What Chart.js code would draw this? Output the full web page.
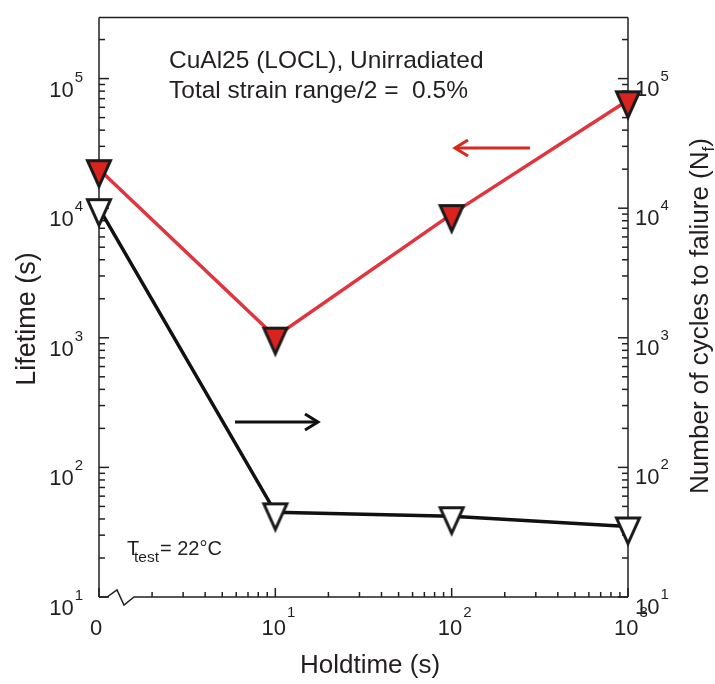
<!DOCTYPE html>
<html>
<head>
<meta charset="utf-8">
<script src="https://cdn.jsdelivr.net/npm/chart.js@4.4.1/dist/chart.umd.min.js"></script>
<style>
  html, body { margin: 0; padding: 0; background: #fff; }
  #chart { display: block; }
</style>
</head>
<body>
<canvas id="chart" width="715" height="684"></canvas>
<script>
// holdtime (s), the 0 point sits at the axis break
const holdtime = [0, 10, 100, 1000];
// lifetime (s), left axis, red
const lifetime = [2.0e4, 1.02e3, 9.0e3, 6.8e4];
// cycles to failure, right axis, black
const cyclesToFailure = [1.0e4, 45, 42, 35];

const xTickValues = [1, 10, 100, 1000];
const xTickLabels = [['0', ''], ['10', '1'], ['10', '2'], ['10', '3']];
const yTickValues = [10, 100, 1000, 10000, 100000];
const yTickLabels = [['10', '1'], ['10', '2'], ['10', '3'], ['10', '4'], ['10', '5']];

const ZERO_AT = 1;   // where holdtime 0 is put on the log axis
const FONT = '"Liberation Sans", Arial, Helvetica, sans-serif';
const AXIS = '#231f20';
const RED_LINE = '#e0353f';
const RED_FILL = '#d8231e';

function toPoints(ys) {
  return holdtime.map((h, i) => ({ x: h === 0 ? ZERO_AT : h, y: ys[i] }));
}

// down pointing triangle, a bit taller than wide, centroid at the middle of the canvas
function triangleMarker(fill) {
  const c = document.createElement('canvas');
  c.width = 36;
  c.height = 48;
  const g = c.getContext('2d');
  g.beginPath();
  g.moveTo(18 - 11.5, 15.5);
  g.lineTo(18 + 11.5, 15.5);
  g.lineTo(18, 41);
  g.closePath();
  g.fillStyle = fill;
  g.fill();
  g.lineWidth = 3;
  g.lineJoin = 'miter';
  g.strokeStyle = '#1a1a1a';
  g.stroke();
  return c;
}

function drawPower(ctx, base, exp, x, y, align, baseSize, expSize, rise) {
  ctx.font = baseSize + 'px ' + FONT;
  const wb = ctx.measureText(base).width;
  ctx.font = expSize + 'px ' + FONT;
  const we = exp ? ctx.measureText(exp).width + 1 : 0;
  const w = wb + we;
  const x0 = align === 'right' ? x - w : align === 'center' ? x - w / 2 : x;
  ctx.textAlign = 'left';
  ctx.textBaseline = 'alphabetic';
  ctx.font = baseSize + 'px ' + FONT;
  ctx.fillText(base, x0, y);
  if (exp) {
    ctx.font = expSize + 'px ' + FONT;
    ctx.fillText(exp, x0 + wb + 1, y - rise);
  }
}

function minorValues(min, max) {
  const out = [];
  for (let e = Math.floor(Math.log10(min)); e <= Math.ceil(Math.log10(max)); e++) {
    for (let m = 2; m <= 9; m++) {
      const v = m * Math.pow(10, e);
      if (v > min && v < max) out.push(v);
    }
  }
  return out;
}

function seg(ctx, x1, y1, x2, y2) {
  ctx.beginPath();
  ctx.moveTo(x1, y1);
  ctx.lineTo(x2, y2);
  ctx.stroke();
}

const frame = {
  id: 'frame',
  beforeDatasetsDraw(chart) {
    const { ctx, chartArea: a, scales } = chart;
    const x = scales.x, y = scales.y, y2 = scales.y2;
    ctx.save();
    ctx.strokeStyle = AXIS;
    ctx.lineWidth = 1.5;
    ctx.lineJoin = 'miter';

    // box
    seg(ctx, a.left, a.top, a.right, a.top);
    seg(ctx, a.left, a.top, a.left, a.bottom);
    seg(ctx, a.right, a.top, a.right, a.bottom);
    // bottom axis with break
    ctx.beginPath();
    ctx.moveTo(a.left, a.bottom);
    ctx.lineTo(a.left + 8, a.bottom);
    ctx.lineTo(a.left + 18, a.bottom - 7);
    ctx.lineTo(a.left + 25, a.bottom + 8);
    ctx.lineTo(a.left + 35, a.bottom);
    ctx.lineTo(a.right, a.bottom);
    ctx.stroke();

    // ticks, pointing inwards
    yTickValues.forEach(v => {
      const py = y.getPixelForValue(v);
      seg(ctx, a.left, py, a.left + 10, py);
      const py2 = y2.getPixelForValue(v);
      seg(ctx, a.right, py2, a.right - 10, py2);
    });
    minorValues(y.min, y.max).forEach(v => {
      const py = y.getPixelForValue(v);
      seg(ctx, a.left, py, a.left + 6, py);
      const py2 = y2.getPixelForValue(v);
      seg(ctx, a.right, py2, a.right - 6, py2);
    });
    xTickValues.forEach(v => {
      const px = x.getPixelForValue(v);
      seg(ctx, px, a.bottom, px, a.bottom - 9);
    });
    minorValues(x.min, x.max).forEach(v => {
      const px = x.getPixelForValue(v);
      seg(ctx, px, a.bottom, px, a.bottom - 5);
    });
    ctx.restore();
  },
  afterDraw(chart) {
    const { ctx, scales } = chart;
    ctx.save();
    ctx.fillStyle = '#231f20';

    // tick labels
    yTickValues.forEach((v, i) => {
      const py = scales.y.getPixelForValue(v);
      drawPower(ctx, yTickLabels[i][0], yTickLabels[i][1], 83, py + 18, 'right', 22, 15, 15);
      const py2 = scales.y2.getPixelForValue(v);
      drawPower(ctx, yTickLabels[i][0], yTickLabels[i][1], 635, py2 + 17, 'left', 22, 15, 15);
    });
    xTickValues.forEach((v, i) => {
      const px = scales.x.getPixelForValue(v);
      const exp = xTickLabels[i][1];
      drawPower(ctx, xTickLabels[i][0], exp, px + (exp ? 3 : -3), 635, 'center', 22, 15, 18);
    });

    // axis titles
    ctx.textBaseline = 'alphabetic';
    ctx.textAlign = 'center';
    ctx.font = '26px ' + FONT;
    ctx.fillText('Holdtime (s)', 370, 673);

    ctx.save();
    ctx.translate(35, 319);
    ctx.rotate(-Math.PI / 2);
    ctx.font = '27px ' + FONT;
    ctx.fillText('Lifetime (s)', 0, 0);
    ctx.restore();

    ctx.save();
    ctx.translate(708, 316);
    ctx.rotate(-Math.PI / 2);
    ctx.textAlign = 'left';
    ctx.font = '26px ' + FONT;
    const main = 'Number of cycles to faliure (N';
    const wMain = ctx.measureText(main).width;
    ctx.font = '17px ' + FONT;
    const wSub = ctx.measureText('f').width;
    ctx.font = '26px ' + FONT;
    const wEnd = ctx.measureText(')').width;
    const start = -(wMain + wSub + wEnd) / 2;
    ctx.fillText(main, start, 0);
    ctx.font = '17px ' + FONT;
    ctx.fillText('f', start + wMain, 6);
    ctx.font = '26px ' + FONT;
    ctx.fillText(')', start + wMain + wSub, 0);
    ctx.restore();

    // annotations
    ctx.textAlign = 'left';
    ctx.font = '24.5px ' + FONT;
    ctx.fillText('CuAl25 (LOCL), Unirradiated', 169, 68);
    ctx.fillText('Total strain range/2 =  0.5%', 169, 98);

    ctx.font = '20px ' + FONT;
    ctx.fillText('T', 127, 555);
    ctx.font = '15.5px ' + FONT;
    ctx.fillText('test', 134, 562);
    ctx.font = '20px ' + FONT;
    ctx.fillText('= 22°C', 160, 555);

    // arrows pointing to each series' axis
    ctx.lineWidth = 3;
    ctx.lineCap = 'butt';
    ctx.strokeStyle = '#d42a20';
    seg(ctx, 530, 148, 456, 148);
    ctx.beginPath();
    ctx.moveTo(468, 140); ctx.lineTo(455, 148); ctx.lineTo(468, 156);
    ctx.stroke();
    ctx.strokeStyle = '#111';
    seg(ctx, 235, 422, 317, 422);
    ctx.beginPath();
    ctx.moveTo(305, 414); ctx.lineTo(318, 422); ctx.lineTo(305, 430);
    ctx.stroke();
    ctx.restore();
  }
};

const logAxis = (pos, min, max) => ({
  type: 'logarithmic',
  position: pos,
  min: min,
  max: max,
  grid: { display: false, drawTicks: false },
  border: { display: false },
  ticks: { display: false }
});

new Chart(document.getElementById('chart'), {
  type: 'line',
  data: {
    datasets: [
      {
        label: 'Lifetime',
        data: toPoints(lifetime),
        yAxisID: 'y',
        borderColor: RED_LINE,
        borderWidth: 3.5,
        pointStyle: triangleMarker(RED_FILL),
        pointRadius: 14,
        tension: 0,
        clip: false
      },
      {
        label: 'Cycles to failure',
        data: toPoints(cyclesToFailure),
        yAxisID: 'y2',
        borderColor: '#111111',
        borderWidth: 3.5,
        pointStyle: triangleMarker('#ffffff'),
        pointRadius: 14,
        tension: 0,
        clip: false
      }
    ]
  },
  options: {
    responsive: false,
    animation: false,
    devicePixelRatio: 1,
    layout: { padding: { left: 99, right: 87, top: 9, bottom: 87 } },
    plugins: { legend: { display: false }, tooltip: { enabled: false } },
    scales: {
      x: logAxis('bottom', 1, 1000),
      y: logAxis('left', 10, 2.96e5),
      y2: logAxis('right', 10, 2.96e5)
    }
  },
  plugins: [frame]
});
</script>
</body>
</html>
